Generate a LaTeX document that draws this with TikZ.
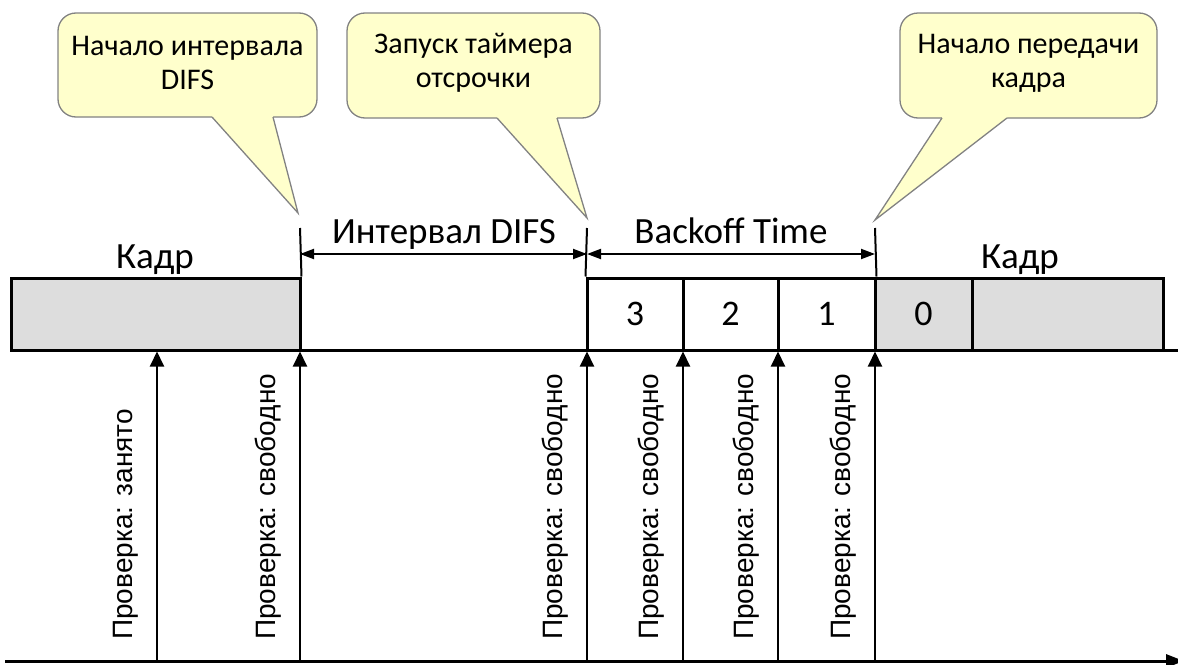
\documentclass[tikz,border=0pt]{standalone}
\usepackage{fontspec}
\setmainfont{Carlito}
\newfontfamily\arialf{Liberation Sans}
\usetikzlibrary{arrows.meta}
\definecolor{framegray}{RGB}{221,221,221}
\definecolor{callfill}{RGB}{255,255,204}
\definecolor{callline}{RGB}{130,130,130}
\begin{document}
\begin{tikzpicture}[x=1pt,y=-1pt,
 frm/.style={draw=black, line width=3pt, fill=framegray, inner sep=0pt, minimum height=72pt, font=\fontsize{36}{40}\selectfont},
 slot/.style={draw=black, line width=3pt, fill=white, inner sep=0pt, minimum height=72pt, font=\fontsize{36}{40}\selectfont},
 lbl/.style={font=\fontsize{37}{42}\selectfont, anchor=base, inner sep=0pt},
 chk/.style={font=\arialf\fontsize{28}{32}\selectfont, rotate=90, anchor=base west, inner sep=0pt},
 up/.style={-{Triangle[length=15pt,width=14pt]}, line width=2pt},
 dim/.style={{Triangle[length=14pt,width=10pt]}-{Triangle[length=14pt,width=10pt]}, line width=2pt},
 thinline/.style={line width=2pt},
 callbody/.style={fill=callfill, draw=callline, line width=1.3pt, rounded corners=18pt},
 tailfill/.style={fill=callfill},
 tailline/.style={draw=callline, line width=1.3pt},
 calltext/.style={font=\fontsize{30}{34}\selectfont, align=center, inner sep=0pt}
]
\useasboundingbox (0,0) rectangle (1178,664);

% callouts
\draw[callbody] (58,13) rectangle (317,117);
\fill[tailfill] (212,115) -- (212,117) -- (298,213) -- (273,117) -- (273,115) -- cycle;
\draw[tailline] (212,117) -- (298,213) -- (273,117);
\node[calltext] (n1) at (187.5,63) {Начало интервала\\DIFS};

\draw[callbody] (347,13) rectangle (600,118);
\fill[tailfill] (497,116) -- (497,118) -- (587,218) -- (557,118) -- (557,116) -- cycle;
\draw[tailline] (497,118) -- (587,218) -- (557,118);
\node[calltext] (n2) at (473.5,63) {Запуск таймера\\отсрочки};

\draw[callbody] (900,13) rectangle (1157,118);
\fill[tailfill] (942,116) -- (942,118) -- (875,220) -- (1007,118) -- (1007,116) -- cycle;
\draw[tailline] (942,118) -- (875,220) -- (1007,118);
\node[calltext] (n3) at (1028.5,63) {Начало передачи\\кадра};

% baseline
\coordinate (bl0) at (11,350);
\coordinate (bl1) at (1180,350);
\draw[line width=3pt] (bl0) -- (bl1);

% boxes
\node[frm, minimum width=289pt] (f1) at (155.5,314) {};
\node[slot, minimum width=96pt] (s3) at (635,314) {3};
\node[slot, minimum width=95pt] (s2) at (730.5,314) {2};
\node[slot, minimum width=97pt] (s1) at (826.5,314) {1};
\node[frm, minimum width=97pt] (s0) at (923.5,314) {0};
\node[frm, minimum width=191pt] (f2) at (1067.5,314) {};

% vertical marks and dimension arrows
\coordinate (v1) at (300,228);
\coordinate (v2) at (587,228);
\coordinate (v3) at (875,228);
\draw[thinline] (v1) -- (f1.north east);
\draw[thinline] (v2) -- (s3.north west);
\draw[thinline] (v3) -- (s1.north east);
\coordinate (d1) at (300,254);
\coordinate (d2) at (587,254);
\coordinate (d3) at (875,254);
\draw[dim] (d1) -- (d2);
\draw[dim] (d2) -- (d3);

% labels
\node[lbl] (k1) at (155,268) {Кадр};
\node[lbl] (k2) at (1020,268) {Кадр};
\node[lbl] (difs) at (444,243) {Интервал DIFS};
\node[lbl] (bt) at (731,243) {Backoff Time};

% time axis
\coordinate (ax0) at (5,661);
\coordinate (ax1) at (1184,661);
\draw[line width=3pt, -{Triangle[length=18pt,width=13pt]}] (ax0) -- (ax1);

% check arrows
\coordinate (p1) at (157,661);
\coordinate (p2) at (300,661);
\coordinate (p3) at (587,661);
\coordinate (p4) at (683,661);
\coordinate (p5) at (778,661);
\coordinate (p6) at (875,661);
\draw[up] (p1) -- (p1 |- f1.south);
\draw[up] (p2) -- (p2 |- f1.south);
\draw[up] (p3) -- (p3 |- f1.south);
\draw[up] (p4) -- (p4 |- f1.south);
\draw[up] (p5) -- (p5 |- f1.south);
\draw[up] (p6) -- (p6 |- f1.south);

\node[chk] (c1) at (132,640) {Проверка: занято};
\node[chk] (c2) at (275,640) {Проверка: свободно};
\node[chk] (c3) at (562,640) {Проверка: свободно};
\node[chk] (c4) at (658,640) {Проверка: свободно};
\node[chk] (c5) at (753,640) {Проверка: свободно};
\node[chk] (c6) at (850,640) {Проверка: свободно};
\end{tikzpicture}
\end{document}
